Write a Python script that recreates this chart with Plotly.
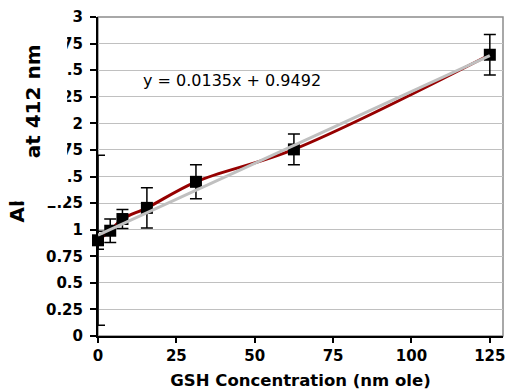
import plotly.graph_objects as go

# ---- data ----
conc = [0, 3.9, 7.8, 15.6, 31.25, 62.5, 125]
absorbance = [0.90, 0.99, 1.10, 1.205, 1.45, 1.755, 2.645]
abs_err = [0.085, 0.11, 0.09, 0.19, 0.16, 0.145, 0.19]

# stray wide error bar drawn on the first point
stray_x = [0]
stray_y = [0.90]
stray_err = [0.80]

# linear trendline as printed on the chart
slope = 0.0135
intercept = 0.9492
trend_x = [0, 125]
trend_y = [intercept + slope * x for x in trend_x]
equation = "y = 0.0135x + 0.9492"

ytick_vals = [0, 0.25, 0.5, 0.75, 1, 1.25, 1.5, 1.75, 2, 2.25, 2.5, 2.75, 3]
ytick_text = ["0", "0.25", "0.5", "0.75", "1", "1.25", "1.5", "1.75", "2", "2.25", "2.5", "2.75", "3"]
xtick_vals = [0, 25, 50, 75, 100, 125]
xtick_text = ["0", "25", "50", "75", "100", "125"]

FONT = "DejaVu Sans"

fig = go.Figure()

fig.add_trace(go.Scatter(
    x=conc, y=absorbance, mode="lines",
    line=dict(color="#960000", width=3, shape="spline", smoothing=1),
    hoverinfo="skip", showlegend=False, cliponaxis=False))

fig.add_trace(go.Scatter(
    x=stray_x, y=stray_y, mode="markers",
    marker=dict(size=1, color="rgba(0,0,0,0)"),
    error_y=dict(type="data", array=stray_err, visible=True, color="black", thickness=1.5, width=7),
    showlegend=False, cliponaxis=False))

fig.add_trace(go.Scatter(
    x=conc, y=absorbance, mode="markers",
    marker=dict(symbol="square", size=12, color="black"),
    error_y=dict(type="data", array=abs_err, visible=True, color="black", thickness=1.5, width=6),
    showlegend=False, cliponaxis=False))

fig.add_trace(go.Scatter(
    x=trend_x, y=trend_y, mode="lines",
    line=dict(color="#c0c0c0", width=3),
    showlegend=False, cliponaxis=False))

fig.update_layout(
    width=507, height=392,
    margin=dict(l=98, r=2, t=17, b=56),
    paper_bgcolor="white", plot_bgcolor="white",
    font=dict(family=FONT, color="black"),
    xaxis=dict(
        range=[0, 129.2], tickvals=xtick_vals, ticktext=xtick_text,
        showgrid=False, zeroline=False,
        showline=True, linecolor="black", linewidth=2,
        ticks="outside", ticklen=5, tickcolor="black", tickwidth=1.5,
        ticklabeloverflow="allow",
        tickfont=dict(family=FONT, size=15, weight="bold", color="black"),
        title=dict(text="GSH Concentration (nm ole)", standoff=10,
                   font=dict(family=FONT, size=16.5, weight="bold", color="black")),
    ),
    yaxis=dict(
        range=[0, 3], tickvals=ytick_vals, ticktext=ytick_text,
        showgrid=True, gridcolor="#c0c0c0", gridwidth=1, zeroline=False,
        showline=True, linecolor="black", linewidth=2,
        ticks="outside", ticklen=6, tickcolor="black", tickwidth=1.5,
        ticklabelstandoff=4,
        tickfont=dict(family=FONT, size=15, weight="bold", color="black"),
    ),
    shapes=[
        dict(type="rect", xref="paper", yref="paper", x0=0, x1=1, y0=0, y1=1,
             line=dict(color="#8c8c8c", width=1.5), layer="below"),
        dict(type="rect", xref="paper", yref="paper", x0=-0.25, x1=-0.0762, y0=0.4295, y1=0.9655,
             fillcolor="white", line=dict(width=0), layer="above"),
        dict(type="rect", xref="paper", yref="paper", x0=-0.25, x1=-0.1007, y0=0.4075, y1=0.4300,
             fillcolor="white", line=dict(width=0), layer="above"),
    ],
    annotations=[
        dict(text=equation, xref="paper", yref="paper", x=0.3317, y=0.7994,
             xanchor="center", yanchor="middle", showarrow=False,
             font=dict(family=FONT, size=16, color="black")),
        dict(text="at 412 nm", xref="paper", yref="paper", x=-0.1597, y=0.7367,
             xanchor="center", yanchor="middle", showarrow=False, textangle=-90,
             font=dict(family=FONT, size=20, weight="bold", color="black")),
        dict(text="Ab", xref="paper", yref="paper", x=(17 - 98) / 407, y=(336 - 207) / 319,
             xanchor="center", yanchor="middle", showarrow=False, textangle=-90,
             font=dict(family=FONT, size=20, weight="bold", color="black")),
        dict(text=" ", xref="paper", yref="paper", x=(17 - 98) / 407, y=(336 - 191) / 319,
             xanchor="center", yanchor="middle", showarrow=False,
             width=30, height=20, bgcolor="white", borderpad=0,
             font=dict(family=FONT, size=10, color="white")),
    ],
)

fig.write_html("out.html", config={"displayModeBar": False},
               post_script="document.body.style.margin='0';document.body.style.padding='0';")
